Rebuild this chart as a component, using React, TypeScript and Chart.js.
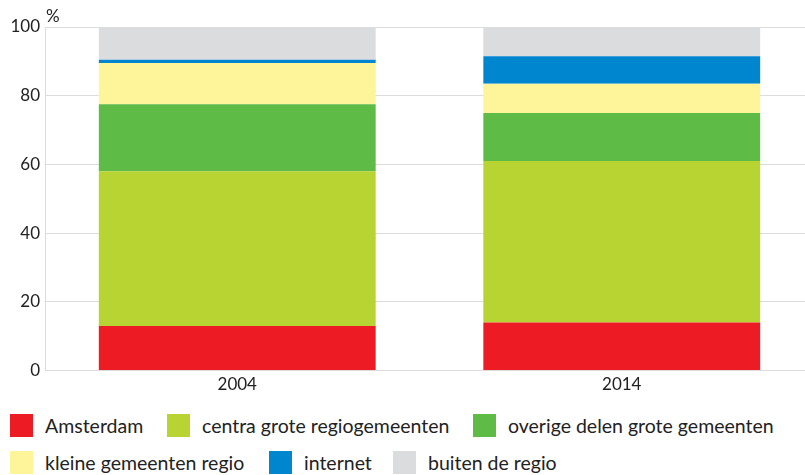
import React, { useEffect, useRef } from "react";
import { Chart, registerables } from "chart.js";

Chart.register(...registerables);

const categories = ["2004", "2014"];
const seriesNames = [
  "Amsterdam",
  "centra grote regiogemeenten",
  "overige delen grote gemeenten",
  "kleine gemeenten regio",
  "internet",
  "buiten de regio",
];
const amsterdam = [13, 14];
const centra = [45, 47];
const overige = [19.5, 14];
const kleine = [12, 8.5];
const internet = [1, 8];
const buiten = [9.5, 8.5];
const colors = ["#ED1C24", "#B8D432", "#5DBB46", "#FEF59B", "#0085CF", "#DBDCDE"];
const yTicks = [0, 20, 40, 60, 80, 100];

const seriesValues = [amsterdam, centra, overige, kleine, internet, buiten];

const FONT = "Lato, 'Open Sans', sans-serif";

const legendPos = [
  { x: 10, y: 413 },
  { x: 167, y: 413 },
  { x: 473, y: 413 },
  { x: 10, y: 450 },
  { x: 269, y: 450 },
  { x: 393, y: 450 },
];

export default function App() {
  const ref = useRef<HTMLCanvasElement | null>(null);

  useEffect(() => {
    document.body.style.margin = "0";
    document.body.style.overflow = "hidden";
    const pctPlugin = {
      id: "pct",
      afterDraw(chart: any) {
        const { ctx, chartArea } = chart;
        ctx.save();
        ctx.fillStyle = "#222";
        ctx.font = `17px ${FONT}`;
        ctx.textAlign = "left";
        ctx.textBaseline = "middle";
        ctx.fillText("%", chartArea.left + 1, chartArea.top - 10);
        ctx.restore();
      },
    };
    const chart = new Chart(ref.current!, {
      type: "bar",
      data: {
        labels: categories,
        datasets: seriesValues.map((vals, i) => ({
          label: seriesNames[i],
          data: vals,
          backgroundColor: colors[i],
          borderWidth: 0,
          barPercentage: 0.72,
          categoryPercentage: 1,
        })),
      },
      options: {
        animation: false,
        responsive: false,
        maintainAspectRatio: false,
        layout: { padding: { top: 27, bottom: 8, left: 0, right: 0 } },
        plugins: {
          legend: { display: false },
          tooltip: { enabled: false },
        },
        scales: {
          x: {
            stacked: true,
            grid: { display: false, drawTicks: false },
            border: { display: true, color: "#dcdcdc", width: 1 },
            ticks: { color: "#222", font: { family: FONT, size: 17 }, padding: 4 },
          },
          y: {
            stacked: true,
            min: 0,
            max: 100,
            afterFit: (s: any) => {
              s.width = 45;
            },
            afterBuildTicks: (s: any) => {
              s.ticks = yTicks.map((v) => ({ value: v }));
            },
            grid: { color: "#dcdcdc", lineWidth: 1, drawTicks: false },
            border: { display: true, color: "#dcdcdc", width: 1 },
            ticks: { color: "#222", font: { family: FONT, size: 17 }, padding: 5 },
          },
        },
      },
      plugins: [pctPlugin],
    });
    return () => chart.destroy();
  }, []);

  return (
    <div
      style={{
        position: "fixed",
        left: 0,
        top: 0,
        width: 805,
        height: 475,
        overflow: "hidden",
        background: "#fff",
        fontFamily: FONT,
      }}
    >
      <canvas
        ref={ref}
        width={814}
        height={407}
        style={{ position: "absolute", left: 0, top: 0, width: 814, height: 407 }}
      />
      {seriesNames.map((name, i) => (
        <div
          key={name}
          style={{
            position: "absolute",
            left: legendPos[i].x,
            top: legendPos[i].y,
            height: 24,
            display: "flex",
            alignItems: "center",
            whiteSpace: "nowrap",
          }}
        >
          <span
            style={{
              display: "inline-block",
              width: 23,
              height: 23,
              background: colors[i],
              marginRight: 12,
              flexShrink: 0,
            }}
          />
          <span style={{ fontSize: 19.5, color: "#222" }}>{name}</span>
        </div>
      ))}
    </div>
  );
}
